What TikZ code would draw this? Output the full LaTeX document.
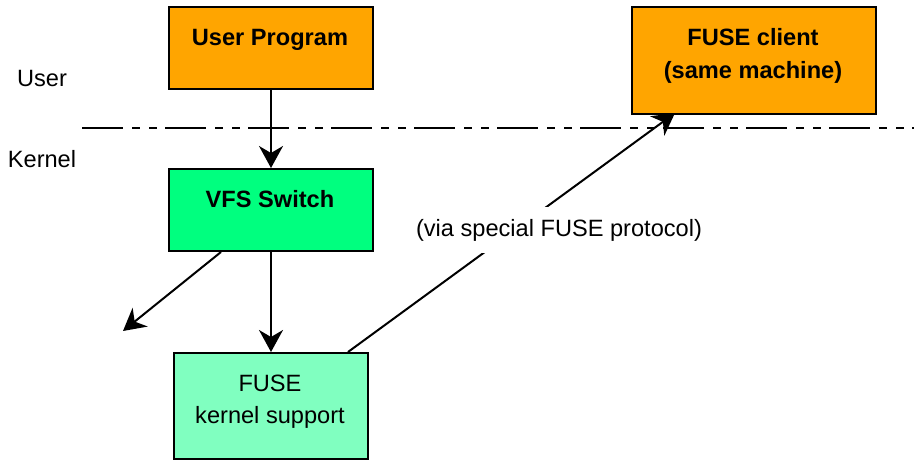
\documentclass[tikz,border=0pt]{standalone}
\usepackage{fontspec}
\setmainfont{Liberation Sans}
\usetikzlibrary{arrows.meta}
\definecolor{boxorange}{HTML}{FFA500}
\definecolor{boxgreen}{HTML}{00FF7F}
\definecolor{boxaqua}{HTML}{80FFC0}
\begin{document}
\begin{tikzpicture}[x=1pt,y=-1pt,
  box/.style={draw=black,line width=2pt,inner sep=0pt,anchor=north west},
  boldtxt/.style={font=\fontsize{23.6}{27}\selectfont\bfseries,inner sep=0pt,align=center},
  plaintxt/.style={font=\fontsize{23.6}{27}\selectfont,inner sep=0pt,align=center},
  conn/.style={line width=2pt,-{Stealth[length=22pt,width=24pt,inset=7pt]}},
  sepline/.style={line width=2pt,dash pattern=on 41pt off 9pt on 8pt off 9pt on 8pt off 8pt}]
\useasboundingbox (0,0) rectangle (914,460);
% boxes
\node[box,fill=boxorange,minimum width=204pt,minimum height=82pt] (up) at (168,6) {};
\node[box,fill=boxorange,minimum width=244pt,minimum height=107pt] (fc) at (631,6) {};
\node[box,fill=boxgreen,minimum width=204pt,minimum height=82pt] (vfs) at (168,168) {};
\node[box,fill=boxaqua,minimum width=194pt,minimum height=106pt] (fk) at (173,352) {};
% box texts
\node[boldtxt] (uptxt) at (270,40) {User Program};
\node[boldtxt] (fctxt1) at (753,37) {FUSE client};
\node[boldtxt] (fctxt2) at (753,72) {(same machine)};
\node[boldtxt] (vfstxt) at (270,199) {VFS Switch};
\node[plaintxt] (fktxt1) at (270,383) {FUSE};
\node[plaintxt] (fktxt2) at (270,417) {kernel support};
% side labels
\node[plaintxt] (userlbl) at (42,78) {User};
\node[plaintxt] (kernlbl) at (42,159) {Kernel};
% separator
\coordinate (sepL) at (82,128);
\coordinate (sepR) at (914,128);
\draw[sepline] (sepL) -- (sepR);
% connectors
\coordinate (freeend) at (123,331);
\draw[conn] (up.south) -- (vfs.north);
\draw[conn] (vfs.south) -- (fk.north);
\draw[conn] ([xshift=-50pt]vfs.south) -- (freeend);
\draw[conn] ([xshift=77pt]fk.north) -- ([xshift=44pt,yshift=2pt]fc.south west);
\node[plaintxt,fill=white,inner xsep=2pt,inner ysep=12pt] (protolbl) at (559,230) {(via special FUSE protocol)};
\end{tikzpicture}
\end{document}
